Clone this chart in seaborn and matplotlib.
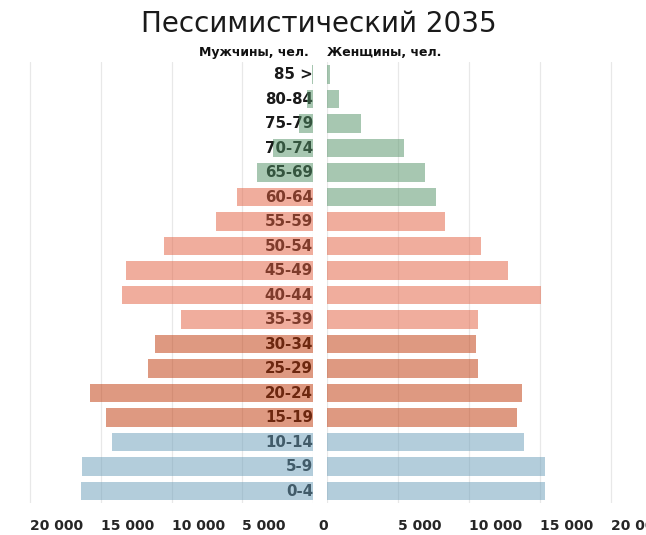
import numpy as np
import pandas as pd
import matplotlib
matplotlib.use("Agg")
import matplotlib.pyplot as plt
import seaborn as sns
from matplotlib.transforms import ScaledTranslation

# ---- data ----
ages = ["85 >", "80-84", "75-79", "70-74", "65-69", "60-64", "55-59", "50-54", "45-49",
        "40-44", "35-39", "30-34", "25-29", "20-24", "15-19", "10-14", "5-9", "0-4"]
men = [100, 400, 1000, 2800, 3950, 5400, 6850, 10550, 13250,
       13500, 9350, 11150, 11650, 15750, 14650, 14200, 16350, 16400]
women = [200, 850, 2400, 5400, 6900, 7700, 8300, 10850, 12750,
         15050, 10650, 10500, 10650, 13700, 13400, 13850, 15350, 15350]
men_group = ["old"] * 5 + ["work"] * 6 + ["young"] * 4 + ["child"] * 3
women_group = ["old"] * 6 + ["work"] * 5 + ["young"] * 4 + ["child"] * 3
ticks = [0, 5000, 10000, 15000, 20000]

title = "Пессимистический 2035"
men_label = "Мужчины, чел."
women_label = "Женщины, чел."

palette = {"old": "#519165", "work": "#e35d3d", "young": "#bf3505", "child": "#699db9"}
hue_order = ["old", "work", "young", "child"]

sns.set_theme(style="white")
plt.rcParams["font.family"] = ["DejaVu Sans"]

fig = plt.figure(figsize=(6.46, 5.35), dpi=100)
axL = fig.add_axes([0.0248, 0.0593, 0.4598, 0.8243])
axR = fig.add_axes([0.5062, 0.0593, 0.4938, 0.8243])

dfL = pd.DataFrame({"age": ages, "value": men, "group": men_group})
dfR = pd.DataFrame({"age": ages, "value": women, "group": women_group})

for ax, df in ((axL, dfL), (axR, dfR)):
    sns.barplot(data=df, x="value", y="age", hue="group", order=ages,
                hue_order=hue_order, palette=palette, dodge=False, width=0.74,
                saturation=1, alpha=0.5, legend=False, ax=ax, zorder=2,
                linewidth=0, edgecolor="none")
    for sp in ax.spines.values():
        sp.set_visible(False)
    ax.set_ylim(len(ages) - 0.5, -0.5)
    ax.set_xlabel("")
    ax.set_ylabel("")
    ax.set_yticks([])
    ax.set_axisbelow(True)
    ax.grid(axis="x", color="#e8e8e8", lw=0.9)
    ax.grid(axis="y", visible=False)
    ax.set_xticks(ticks)
    ax.tick_params(axis="x", length=0, pad=11, labelsize=10)

axL.set_xlim(21000, 0)
axR.set_xlim(0, 22465)

def fmt(v):
    return f"{v:,}".replace(",", " ")

axL.set_xticklabels([fmt(v) for v in ticks], fontweight="bold", ha="left")
axR.set_xticklabels(["" if v == 0 else fmt(v) for v in ticks], fontweight="bold", ha="left")

for lab in axL.get_xticklabels():
    if lab.get_text() == "0":
        lab.set_transform(lab.get_transform() + ScaledTranslation(5 / 100, 0, fig.dpi_scale_trans))

for i, a in enumerate(ages):
    axL.text(0, i, a, ha="right", va="center", fontsize=10.8, fontweight="bold",
             color="#1a1a1a", zorder=1)

fig.text(0.493, 1 - 24 / 535, title, ha="center", va="center", fontsize=20, color="#1a1a1a")
fig.text(309 / 646, 1 - 52 / 535, men_label, ha="right", va="center", fontsize=9,
         fontweight="bold", color="#111111")
fig.text(327 / 646, 1 - 52 / 535, women_label, ha="left", va="center", fontsize=9,
         fontweight="bold", color="#111111")

fig.savefig("out.png", dpi=100)
